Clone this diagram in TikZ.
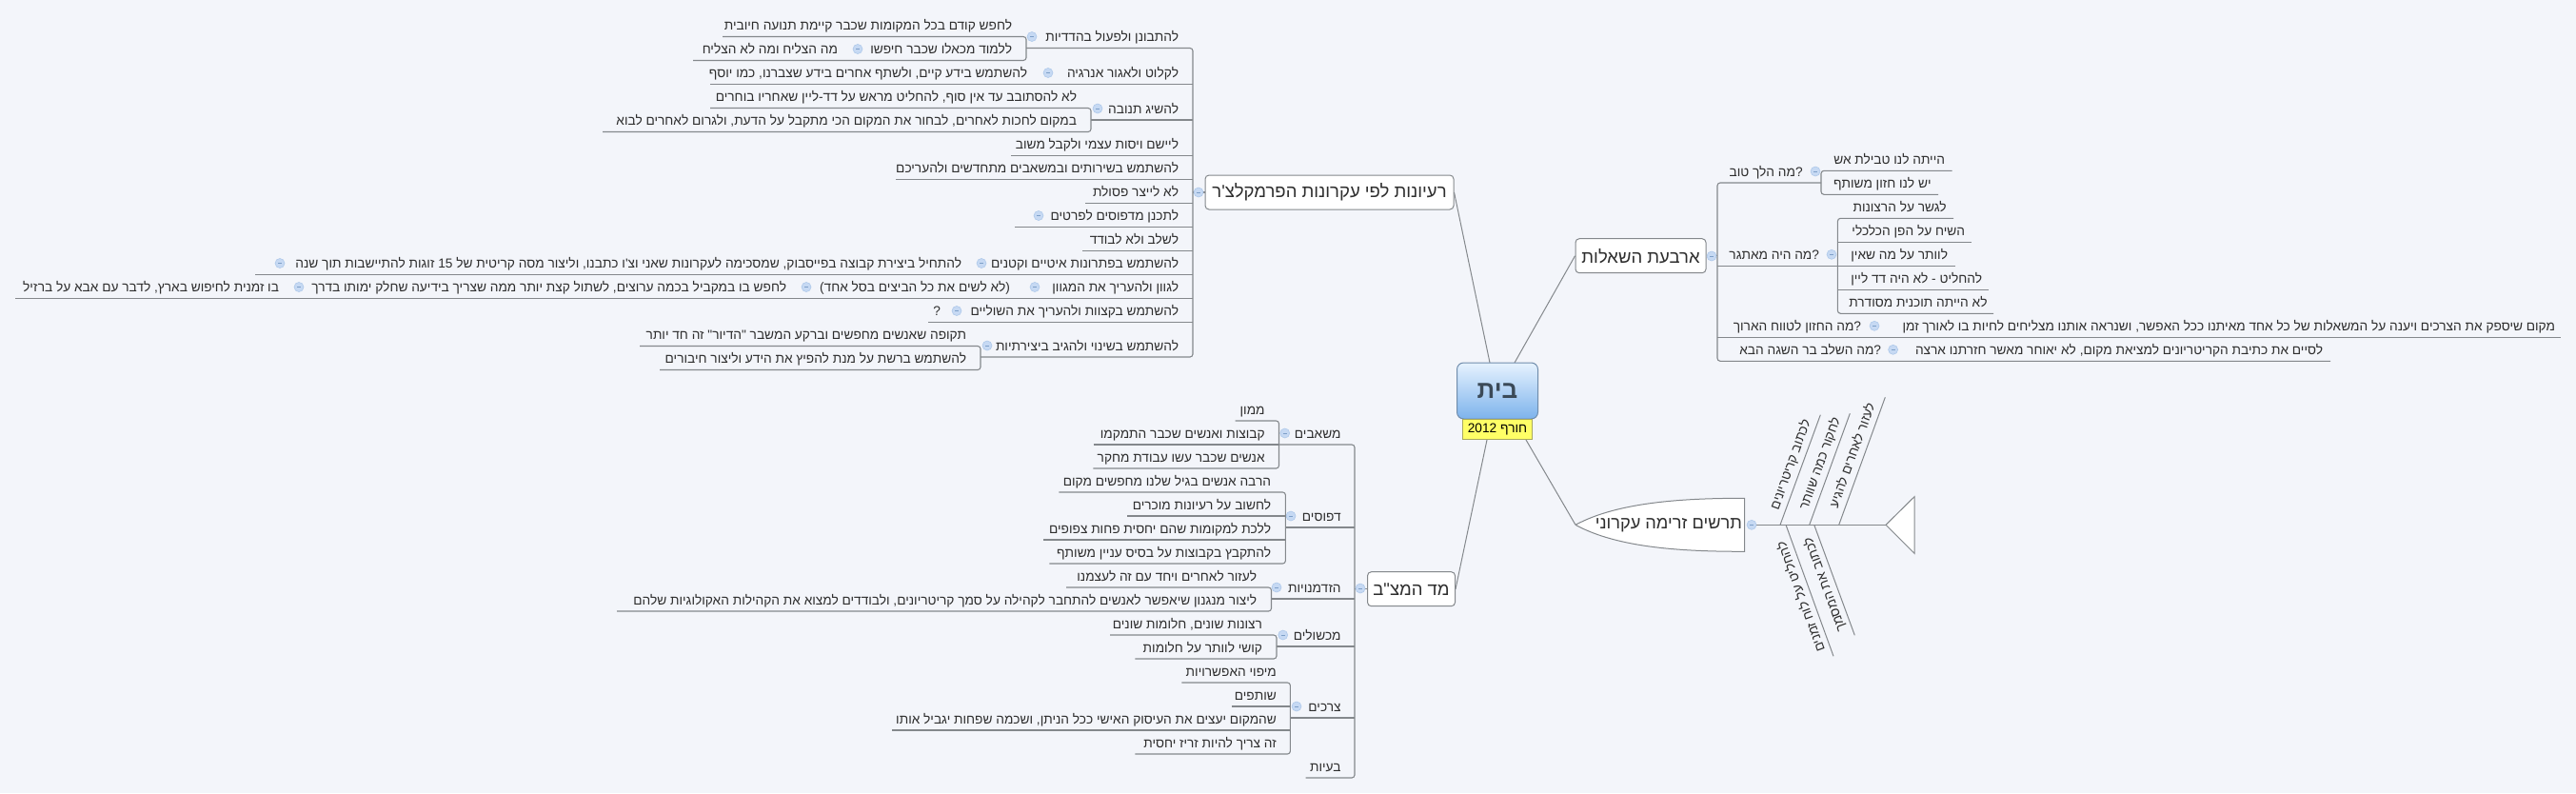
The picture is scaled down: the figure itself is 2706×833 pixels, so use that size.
\documentclass[tikz,border=0pt]{standalone}
\usepackage{fontspec}
\usetikzlibrary{calc}
\newfontfamily\hebfont[Script=Hebrew]{Liberation Sans}
\TeXXeTstate=1
\definecolor{bgc}{HTML}{F3F5FA}
\definecolor{linec}{HTML}{84888C}
\definecolor{txtc}{HTML}{2E2E2E}
\definecolor{foldf}{HTML}{C6D9F3}
\definecolor{foldd}{HTML}{AFC9EA}
\definecolor{foldm}{HTML}{7E9FC8}
\definecolor{roott}{HTML}{E6F2FE}
\definecolor{rootb}{HTML}{7DB3EC}
\definecolor{rootd}{HTML}{6F8CAB}
\definecolor{titlec}{HTML}{3B4A58}
\definecolor{notef}{HTML}{FFFF66}
\definecolor{noted}{HTML}{A9A95C}
\tikzset{
  txt/.style={inner sep=0pt,outer sep=0pt,anchor=base east,text=txtc,font=\hebfont\fontsize{13.7}{16}\selectfont},
  conn/.style={draw=linec,line width=1.1pt},
  brack/.style={conn,rounded corners=3pt},
  edge/.style={draw=linec,line width=1pt},
  foldc/.style={circle,minimum size=10pt,inner sep=0pt,fill=foldf,draw=foldd,line width=.6pt,
    path picture={\draw[foldm,line width=.7pt] ([xshift=-2pt]path picture bounding box.center) -- ([xshift=2pt]path picture bounding box.center);}},
  mainbox/.style={draw=linec,line width=1pt,fill=white,rounded corners=4pt,inner sep=0pt,text=txtc,font=\hebfont\fontsize{18.5}{22}\selectfont},
  rootbox/.style={draw=rootd,line width=1pt,rounded corners=7pt,top color=roott,bottom color=rootb,inner sep=0pt},
  ribtxt/.style={inner sep=0pt,text=txtc,font=\hebfont\fontsize{13.7}{16}\selectfont},
}
\newcommand{\leaf}[5]{\node[txt] (#1) at (#2,#3+5) {#5};\coordinate (#1-u) at (#4,#3+12);}
\newcommand{\fold}[3]{\node[foldc] (#1) at (#2,#3) {};}
\begin{document}
\begin{tikzpicture}[x=1pt,y=-1pt]
\useasboundingbox (0,0) rectangle (2706,833);
\fill[bgc] (0,0) rectangle (2706,833);
% trunks and brackets x
\coordinate (T1) at (1253,0);
\coordinate (T2) at (1804,0);
\coordinate (T3) at (1423,0);
% central
\node[mainbox,minimum width=261pt,minimum height=36pt] (box1) at (1396.5,202) {\beginR רעיונות לפי עקרונות הפרמקלצ'ר\endR};
\node[mainbox,minimum width=137pt,minimum height=36pt] (box2) at (1723.5,268.7) {\beginR ארבעת השאלות\endR};
\node[mainbox,minimum width=92pt,minimum height=36pt] (box3) at (1482.5,618.7) {\beginR מד המצ"ב\endR};
\coordinate (rA) at (1565,381);
\coordinate (rB) at (1591,381);
\coordinate (rC) at (1562,462);
\coordinate (rD) at (1603,462);
\coordinate (fishtip) at (1655,551.3);
\draw[edge] (rA) -- (box1.east);
\draw[edge] (rB) -- (box2.west);
\draw[edge] (rC) -- (box3.east);
\draw[edge] (rD) -- (fishtip);
\node[rootbox,minimum width=85pt,minimum height=59pt] (root) at (1573,410.5) {\hebfont\bfseries\fontsize{26}{28}\selectfont\color{titlec}\beginR בית\endR};
\node[draw=noted,line width=.8pt,fill=notef,minimum width=73.5pt,minimum height=21.5pt,inner sep=0pt,font=\hebfont\fontsize{13.7}{16}\selectfont] (note) at (1573,451) {\beginR חורף \beginL 2012\endL\endR};
% ---- upper left
\leaf{a1}{1238}{38.5}{1078}{\beginR להתבונן ולפעול בהדדיות\endR}
\fold{fa1}{1084}{38.5}
\leaf{a11}{1063}{26.5}{759}{\beginR לחפש קודם בכל המקומות שכבר קיימת תנועה חיובית\endR}
\leaf{a12}{1063}{51.5}{728}{\beginR ללמוד מכאלו שכבר חיפשו\endR}
\fold{fa12}{901}{51.5}
\node[txt] (a121) at (880,56.5) {\beginR מה הצליח ומה לא הצליח\endR};
\draw[brack] (a11-u) -- (a11-u -| a1-u) -- (a12-u -| a1-u) -- (a12-u);
\leaf{a2}{1238}{76.5}{746}{\beginR לקלוט ולאגור אנרגיה\endR}
\fold{fa2}{1101}{76.5}
\node[txt] (a21) at (1079,81.5) {\beginR להשתמש בידע קיים, ולשתף אחרים בידע שצברנו, כמו יוסף\endR};
\leaf{a3}{1238}{114}{1146}{\beginR להשיג תנובה\endR}
\fold{fa3}{1153}{114}
\leaf{a31}{1131}{101.5}{746}{\beginR לא להסתובב עד אין סוף, להחליט מראש על דד-ליין שאחריו בוחרים\endR}
\leaf{a32}{1131}{126.5}{633}{\beginR במקום לחכות לאחרים, לבחור את המקום הכי מתקבל על הדעת, ולגרום לאחרים לבוא\endR}
\draw[brack] (a31-u) -- (a31-u -| a3-u) -- (a32-u -| a3-u) -- (a32-u);
\leaf{a4}{1238}{151.5}{1062}{\beginR ליישם ויסות עצמי ולקבל משוב\endR}
\leaf{a5}{1238}{176.5}{941}{\beginR להשתמש בשירותים ובמשאבים מתחדשים ולהעריכם\endR}
\leaf{a6}{1238}{201.5}{1140}{\beginR לא לייצר פסולת\endR}
\leaf{a7}{1238}{226.5}{1066}{\beginR לתכנן מדפוסים לפרטים\endR}
\fold{fa7}{1091}{226.5}
\leaf{a8}{1238}{251.5}{1137}{\beginR לשלב ולא לבודד\endR}
\leaf{a9}{1238}{276.5}{268}{\beginR להשתמש בפתרונות איטיים וקטנים\endR}
\fold{fa9}{1031}{276.5}
\node[txt] (a91) at (1010,281.5) {\beginR להתחיל ביצירת קבוצה בפייסבוק, שמסכימה לעקרונות שאני וצ'ו כתבנו, וליצור מסה קריטית של \beginL 15\endL{} זוגות להתיישבות תוך שנה\endR};
\fold{fa91}{294}{276.5}
\leaf{a10}{1238}{301.5}{16}{\beginR לגוון ולהעריך את המגוון\endR}
\fold{fa10}{1087}{301.5}
\node[txt] (a101) at (1061,306.5) {\beginR (לא לשים את כל הביצים בסל אחד)\endR};
\fold{fa101}{847}{301.5}
\node[txt] (a102) at (826,306.5) {\beginR לחפש בו במקביל בכמה ערוצים, לשתול קצת יותר ממה שצריך בידיעה שחלק ימותו בדרך\endR};
\fold{fa102}{314}{301.5}
\node[txt] (a103) at (293,306.5) {\beginR בו זמנית לחיפוש בארץ, לדבר עם אבא על ברזיל\endR};
\leaf{a13}{1238}{326.5}{975}{\beginR להשתמש בקצוות ולהעריך את השוליים\endR}
\fold{fa13}{1005}{326.5}
\node[txt] (a131) at (988,331.5) {\beginR ?\endR};
\leaf{a14}{1238}{363}{1030}{\beginR להשתמש בשינוי ולהגיב ביצירתיות\endR}
\fold{fa14}{1037}{363}
\leaf{a141}{1015}{351.5}{672}{\beginR תקופה שאנשים מחפשים וברקע המשבר "הדיור" זה חד יותר\endR}
\leaf{a142}{1015}{376.5}{693}{\beginR להשתמש ברשת על מנת להפיץ את הידע וליצור חיבורים\endR}
\draw[brack] (a141-u) -- (a141-u -| a14-u) -- (a142-u -| a14-u) -- (a142-u);
\foreach \n in {a2,a4,a5,a6,a7,a8,a9,a10,a13} {\draw[conn] (\n-u) -- (\n-u -| T1);}
\draw[brack] (a1-u) -- (a1-u -| T1) -- (a14-u -| T1) -- (a14-u);
\draw[conn] (a3-u) -- (a3-u -| T1);
\draw[conn] (box1.west) -- (box1.west -| T1);
\fold{fb1}{1259}{202}
% ---- upper right
\coordinate (B1) at (1913,0);
\coordinate (B2) at (1930.4,0);
\leaf{b1}{1893.6}{180}{1818}{\beginR ?מה הלך טוב\endR}
\fold{fb1a}{1907}{180}
\leaf{b11}{2043}{167.3}{2050.7}{\beginR הייתה לנו טבילת אש\endR}
\leaf{b12}{2028.6}{192.3}{2036}{\beginR יש לנו חזון משותף\endR}
\draw[brack] (b11-u) -- (b11-u -| B1) -- (b12-u -| B1) -- (b12-u);
\leaf{b2}{1911}{267.3}{1818}{\beginR ?מה היה מאתגר\endR}
\fold{fb2a}{1924}{267.3}
\leaf{b21}{2044.6}{217.3}{2052}{\beginR לגשר על הרצונות\endR}
\leaf{b22}{2064}{242.3}{2071}{\beginR השיח על הפן הכלכלי\endR}
\leaf{b23}{2046}{267.3}{2054}{\beginR לוותר על מה שאין\endR}
\leaf{b24}{2082}{292.3}{2089}{\beginR להחליט - לא היה דד ליין\endR}
\leaf{b25}{2087.5}{317.3}{2094}{\beginR לא הייתה תוכנית מסודרת\endR}
\draw[brack] (b21-u) -- (b21-u -| B2) -- (b25-u -| B2) -- (b25-u);
\draw[conn] (b22-u) -- (b22-u -| B2);
\draw[conn] (b23-u) -- (b23-u -| T2);
\draw[conn] (b24-u) -- (b24-u -| B2);
\leaf{b3}{1955}{342.3}{2690}{\beginR ?מה החזון לטווח הארוך\endR}
\fold{fb3a}{1969}{342.3}
\node[txt] (b31) at (2684,347.3) {\beginR מקום שיספק את הצרכים ויענה על המשאלות של כל אחד מאיתנו ככל האפשר, ושנראה אותנו מצליחים לחיות בו לאורך זמן\endR};
\leaf{b4}{1976}{367.3}{2448}{\beginR ?מה השלב בר השגה הבא\endR}
\fold{fb4a}{1988.6}{367.3}
\node[txt] (b41) at (2440,372.3) {\beginR לסיים את כתיבת הקריטריונים למציאת מקום, לא יאוחר מאשר חזרתנו ארצה\endR};
\draw[brack] (b1-u -| B1) -- (b1-u -| T2) -- (b4-u -| T2) -- (b4-u);
\draw[conn] (b3-u) -- (b3-u -| T2);
\draw[conn] (box2.east) -- (box2.east -| T2);
\fold{fb2}{1798}{269}
% ---- lower left
\leaf{c1}{1408.6}{455}{1343.5}{\beginR משאבים\endR}
\fold{fc1}{1349.7}{455}
\leaf{c11}{1328.6}{430}{1297.6}{\beginR ממון\endR}
\leaf{c12}{1328.6}{455}{1148.7}{\beginR קבוצות ואנשים שכבר התמקמו\endR}
\leaf{c13}{1328.6}{480}{1148.4}{\beginR אנשים שכבר עשו עבודת מחקר\endR}
\draw[brack] (c11-u) -- (c11-u -| c1-u) -- (c13-u -| c1-u) -- (c13-u);
\draw[conn] (c12-u) -- (c12-u -| c1-u);
\leaf{c2}{1408.6}{542}{1350.4}{\beginR דפוסים\endR}
\fold{fc2}{1356}{542}
\leaf{c21}{1335}{505}{1112.4}{\beginR הרבה אנשים בגיל שלנו מחפשים מקום\endR}
\leaf{c22}{1335}{530}{1184}{\beginR לחשוב על רעיונות מוכרים\endR}
\leaf{c23}{1335}{555}{1096}{\beginR ללכת למקומות שהם יחסית פחות צפופים\endR}
\leaf{c24}{1335}{580}{1102.4}{\beginR להתקבץ בקבוצות על בסיס עניין משותף\endR}
\draw[brack] (c21-u) -- (c21-u -| c2-u) -- (c24-u -| c2-u) -- (c24-u);
\draw[conn] (c22-u) -- (c22-u -| c2-u);
\draw[conn] (c23-u) -- (c23-u -| c2-u);
\leaf{c3}{1408.6}{617}{1335.5}{\beginR הזדמנויות\endR}
\fold{fc3}{1341}{617}
\leaf{c31}{1320}{605}{1120}{\beginR לעזור לאחרים ויחד עם זה לעצמנו\endR}
\leaf{c32}{1320}{630}{648}{\beginR ליצור מנגנון שיאפשר לאנשים להתחבר לקהילה על סמך קריטריונים, ולבודדים למצוא את הקהילות האקולוגיות שלהם\endR}
\draw[brack] (c31-u) -- (c31-u -| c3-u) -- (c32-u -| c3-u) -- (c32-u);
\leaf{c4}{1408.6}{667}{1341}{\beginR מכשולים\endR}
\fold{fc4}{1347.7}{667}
\leaf{c41}{1326}{655}{1166}{\beginR רצונות שונים, חלומות שונים\endR}
\leaf{c42}{1326}{680}{1192.4}{\beginR קושי לוותר על חלומות\endR}
\draw[brack] (c41-u) -- (c41-u -| c4-u) -- (c42-u -| c4-u) -- (c42-u);
\leaf{c5}{1408.6}{742}{1355.4}{\beginR צרכים\endR}
\fold{fc5}{1362}{742}
\leaf{c51}{1340.8}{705}{1241.3}{\beginR מיפוי האפשרויות\endR}
\leaf{c52}{1340.8}{730}{1293.8}{\beginR שותפים\endR}
\leaf{c53}{1340.8}{755}{937}{\beginR שהמקום יעצים את העיסוק האישי ככל הניתן, ושכמה שפחות יגביל אותו\endR}
\leaf{c54}{1340.8}{780}{1192.4}{\beginR זה צריך להיות זריז יחסית\endR}
\draw[brack] (c51-u) -- (c51-u -| c5-u) -- (c54-u -| c5-u) -- (c54-u);
\draw[conn] (c52-u) -- (c52-u -| c5-u);
\draw[conn] (c53-u) -- (c53-u -| c5-u);
\leaf{c6}{1408.6}{805}{1371.5}{\beginR בעיות\endR}
\foreach \n in {c2,c3,c4,c5} {\draw[conn] (\n-u) -- (\n-u -| T3);}
\draw[brack] (c1-u) -- (c1-u -| T3) -- (c6-u -| T3) -- (c6-u);
\draw[conn] (box3.west) -- (box3.west -| T3);
\fold{fc0}{1429}{618}
% ---- fishbone
\draw[edge,fill=white] (fishtip) .. controls (1700,527) and (1770,523.3) .. (1832.5,523.3) -- (1832.5,579.3) .. controls (1770,579.3) and (1700,576) .. (fishtip);
\node[inner sep=0pt,anchor=east,text=txtc,font=\hebfont\fontsize{18.2}{22}\selectfont] (fish) at (1830,551.3) {\beginR תרשים זרימה עקרוני\endR};
\fold{ffish}{1840}{551.3}
\coordinate (tailtip) at (1981,551.3);
\draw[edge,fill=white] (tailtip) -- (2011,521.7) -- (2011,581.3) -- cycle;
\draw[edge] (ffish) -- (tailtip);
\coordinate (r1a) at (1870,551.3); \coordinate (r1b) at (1912.3,435.7);
\coordinate (r2a) at (1900.7,551.3); \coordinate (r2b) at (1943.3,434.3);
\coordinate (r3a) at (1931.7,551.3); \coordinate (r3b) at (1980.3,417.3);
\coordinate (r4a) at (1876,551.3); \coordinate (r4b) at (1926,689.3);
\coordinate (r5a) at (1905.7,551.3); \coordinate (r5b) at (1948.3,667.3);
\draw[edge] (r1a) -- (r1b); \draw[edge] (r2a) -- (r2b); \draw[edge] (r3a) -- (r3b);
\draw[edge] (r4a) -- (r4b); \draw[edge] (r5a) -- (r5b);
\node[ribtxt,rotate=70] (s1) at (1881,488) {\beginR לכתוב קריטריונים\endR};
\node[ribtxt,rotate=70] (s2) at (1912,487) {\beginR לחקור כמה שוותר\endR};
\node[ribtxt,rotate=70] (s3) at (1945,478) {\beginR לעזור לאחרים להגיע\endR};
\node[ribtxt,rotate=110] (s4) at (1891,627) {\beginR להחליט על לוח זמנים\endR};
\node[ribtxt,rotate=110] (s5) at (1917,614) {\beginR לכתוב את המסמך\endR};
\end{tikzpicture}
\end{document}
